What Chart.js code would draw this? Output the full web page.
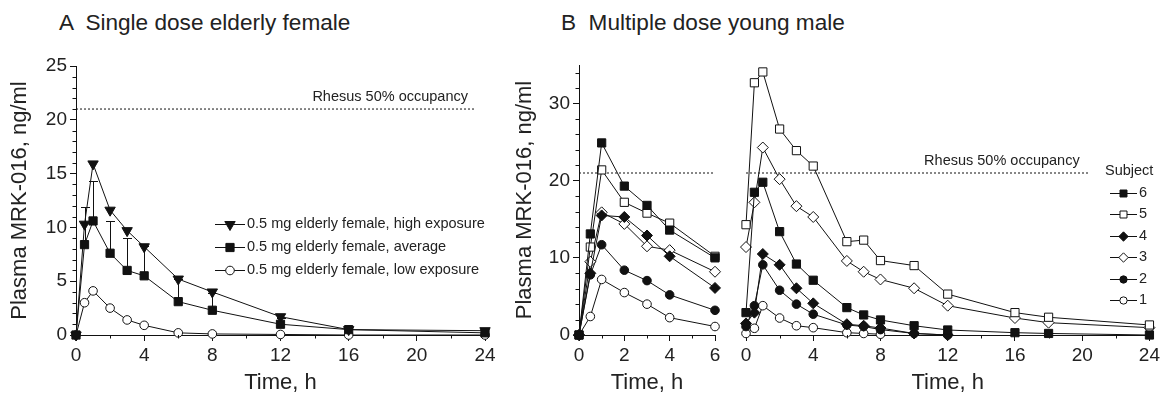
<!DOCTYPE html>
<html>
<head>
<meta charset="utf-8">
<script src="https://cdn.jsdelivr.net/npm/chart.js@4.4.1/dist/chart.umd.min.js"></script>
<style>
  body { margin: 0; background: #fff; width: 1163px; height: 394px; position: relative; overflow: hidden;
         font-family: "Liberation Sans", Arial, sans-serif; color: #222; }
  .panel-title { position: absolute; top: 12px; font-size: 22.6px; line-height: 22px; white-space: pre; }
  .box { position: absolute; top: 40px; height: 354px; }
</style>
</head>
<body>
<div class="panel-title" style="left:59px">A  Single dose elderly female</div>
<div class="panel-title" style="left:561px">B  Multiple dose young male</div>
<div class="box" style="left:0;width:505px"><canvas id="chartA"></canvas></div>
<div class="box" style="left:500px;width:230px"><canvas id="chartB1"></canvas></div>
<div class="box" style="left:730px;width:433px"><canvas id="chartB2"></canvas></div>
<script>
// ---- data ----
const occupancy = 21; // rhesus 50% occupancy, ng/ml

// A: single dose elderly female
const timesA = [0, 0.5, 1, 2, 3, 4, 6, 8, 12, 16, 24];
const highA  = [0, 10.3, 15.9, 11.6, 9.7, 8.2, 5.2, 4.0, 1.7, 0.5, 0.4];
const avgA   = [0, 8.4, 10.6, 7.6, 6.0, 5.5, 3.1, 2.3, 1.0, 0.5, 0.2];
const avgSdTopA = [null, 11.9, 14.3, 10.6, 9.0, 8.3, 5.2, 3.9, 1.6, null, null];
const lowA   = [0, 3.0, 4.1, 2.5, 1.4, 0.9, 0.2, 0.1, 0.05, 0, 0];

// B: multiple dose young male, day 1 (0-6 h)
const timesB1 = [0, 0.5, 1, 2, 3, 4, 6];
const subj6B1 = [0, 13.1, 24.9, 19.3, 16.8, 13.6, 10.0];
const subj5B1 = [0, 11.4, 21.4, 17.2, 15.8, 14.5, 10.2];
const subj4B1 = [0, 8.0, 15.5, 15.3, 12.9, 10.2, 6.1];
const subj3B1 = [0, 9.5, 15.9, 14.4, 11.5, 11.0, 8.2];
const subj2B1 = [0, 7.8, 11.7, 8.4, 7.05, 5.2, 3.2];
const subj1B1 = [0, 2.4, 7.2, 5.5, 4.0, 2.25, 1.1];

// B: multiple dose young male, last day (0-24 h)
const timesB2 = [0, 0.5, 1, 2, 3, 4, 6, 7, 8, 10, 12, 16, 18, 24];
const subj6B2 = [2.9, 18.5, 19.8, 13.4, 9.2, 7.1, 3.55, 2.6, 1.95, 1.2, 0.65, 0.3, 0.2, 0];
const subj5B2 = [14.3, 32.7, 34.1, 26.7, 23.9, 21.9, 12.1, 12.3, 9.65, 9.0, 5.3, 2.9, 2.3, 1.3];
const subj4B2 = [1.5, 2.9, 10.5, 9.1, 6.06, 4.1, 1.4, 1.2, 0.9, 0.2, 0, null, null, null];
const subj3B2 = [11.4, 17.2, 24.3, 20.2, 16.7, 15.3, 9.6, 8.2, 7.2, 6.06, 3.8, 2.2, 1.6, 0.95];
const subj2B2 = [1.1, 3.8, 9.1, 5.8, 4.0, 2.7, 1.3, 1.1, 0.7, 0.2, 0, null, null, null];
const subj1B2 = [0.2, 0.87, 3.8, 2.2, 1.2, 0.95, 0.3, 0.2, 0.1, null, null, null, null, null];

const ticksA = { xStep: 4, yStep: 5 };
const ticksB = { x1Step: 2, x2Step: 4, yStep: 10 };

// ---- styles ----
const INK = '#111';
const FONT = '"Liberation Sans", Arial, sans-serif';
const markers = {
  triDown:   { shape: 'triangle', r: 6, rot: 180, fill: INK },
  sqFill:    { shape: 'rect', r: 5.8, fill: INK },
  sqOpen:    { shape: 'rect', r: 5.8, fill: '#fff' },
  dmFill:    { shape: 'rectRot', r: 5.5, fill: INK },
  dmOpen:    { shape: 'rectRot', r: 5.5, fill: '#fff' },
  ciFill:    { shape: 'circle', r: 4.3, fill: INK },
  ciOpen:    { shape: 'circle', r: 4.3, fill: '#fff' }
};

function series(label, times, vals, m, extra) {
  return Object.assign({
    label: label,
    data: times.map((t, i) => ({ x: t, y: vals[i] })).filter(p => p.y !== null),
    borderColor: INK, borderWidth: 1, tension: 0, clip: false,
    pointStyle: m.shape, pointRadius: m.r, pointHoverRadius: m.r, pointRotation: m.rot || 0,
    pointBackgroundColor: m.fill, pointBorderColor: INK, pointBorderWidth: 1,
    inLegend: true, marker: m, order: 1
  }, extra || {});
}

function refLine(xEnd) {
  return {
    label: 'ref', data: [{ x: 0, y: occupancy }, { x: xEnd, y: occupancy }],
    borderColor: INK, borderWidth: 1, borderDash: [2, 2], pointRadius: 0, clip: false, inLegend: false, order: 5
  };
}

// minor tick marks (Chart.js has no minor ticks)
const minorTicks = {
  id: 'minorTicks',
  afterDraw(chart, args, opts) {
    const ctx = chart.ctx, area = chart.chartArea;
    ctx.save();
    ctx.strokeStyle = INK; ctx.lineWidth = 1;
    ctx.beginPath();
    (opts.x || []).forEach(v => {
      const px = Math.round(chart.scales.x.getPixelForValue(v)) + 0.5;
      ctx.moveTo(px, area.bottom); ctx.lineTo(px, area.bottom + 3.5);
    });
    (opts.y || []).forEach(v => {
      const py = Math.round(chart.scales.y.getPixelForValue(v)) + 0.5;
      ctx.moveTo(area.left, py); ctx.lineTo(area.left - 3.5, py);
    });
    ctx.stroke();
    ctx.restore();
  }
};

// upward SD bars on the average curve
const errorBars = {
  id: 'errorBars',
  beforeDatasetsDraw(chart) {
    const ctx = chart.ctx;
    ctx.save();
    ctx.strokeStyle = INK; ctx.lineWidth = 1;
    chart.data.datasets.forEach(ds => {
      if (!ds.errorTop) return;
      ds.data.forEach((p, i) => {
        const top = ds.errorTop[i];
        if (top === null || top === undefined) return;
        const x = Math.round(chart.scales.x.getPixelForValue(p.x)) + 0.5;
        const y0 = chart.scales.y.getPixelForValue(p.y);
        const y1 = Math.round(chart.scales.y.getPixelForValue(top)) + 0.5;
        ctx.beginPath();
        ctx.moveTo(x, y0); ctx.lineTo(x, y1);
        ctx.moveTo(x - 4.5, y1); ctx.lineTo(x + 4.5, y1);
        ctx.stroke();
      });
    });
    ctx.restore();
  }
};

// text label over the occupancy line
const refLabel = {
  id: 'refLabel',
  afterDraw(chart, args, opts) {
    if (!opts.text) return;
    const ctx = chart.ctx;
    ctx.save();
    ctx.font = '14.5px ' + FONT;
    ctx.fillStyle = '#222';
    ctx.textAlign = 'right'; ctx.textBaseline = 'middle';
    ctx.fillText(opts.text, chart.scales.x.getPixelForValue(opts.atX), chart.scales.y.getPixelForValue(occupancy) - 12);
    ctx.restore();
  }
};

// legend drawn inside plot area, built from the datasets
const innerLegend = {
  id: 'innerLegend',
  afterDraw(chart, args, opts) {
    if (!opts.display) return;
    const ctx = chart.ctx;
    ctx.save();
    ctx.font = '14.5px ' + FONT;
    ctx.fillStyle = '#222'; ctx.textBaseline = 'middle'; ctx.textAlign = 'left';
    let y = opts.y;
    if (opts.title) {
      ctx.fillText(opts.title, opts.titleX, opts.titleY);
    }
    chart.data.datasets.filter(d => d.inLegend).forEach(ds => {
      const m = ds.marker;
      ctx.strokeStyle = INK; ctx.lineWidth = 1;
      ctx.beginPath();
      ctx.moveTo(opts.x, Math.round(y) + 0.5); ctx.lineTo(opts.x + opts.lineLen, Math.round(y) + 0.5);
      ctx.stroke();
      ctx.fillStyle = m.fill; ctx.strokeStyle = INK;
      Chart.helpers.drawPoint(ctx, { pointStyle: m.shape, radius: m.r * (opts.markerScale || 1), rotation: m.rot || 0, borderWidth: 1 },
        opts.x + opts.lineLen / 2, Math.round(y) + 0.5);
      ctx.fillStyle = '#222';
      ctx.fillText(ds.label, opts.x + opts.lineLen + 2, y);
      y += opts.gap;
    });
    ctx.restore();
  }
};

function range(from, to, step, skipEvery) {
  const out = [];
  for (let v = from; v <= to + 1e-9; v += step) {
    if (skipEvery && Math.abs(v / skipEvery - Math.round(v / skipEvery)) < 1e-9) continue;
    out.push(v);
  }
  return out;
}

function axisX(max, step, withTitle) {
  return {
    type: 'linear', min: 0, max: max,
    border: { display: true, color: INK, width: 1 },
    grid: { display: true, drawOnChartArea: false, drawTicks: true, tickLength: 6, color: INK },
    ticks: { stepSize: step, autoSkip: false, color: '#222', font: { family: FONT, size: 19 }, padding: 3, maxRotation: 0 },
    title: { display: withTitle, text: 'Time, h', color: '#222', font: { family: FONT, size: 22, lineHeight: 1 }, padding: { top: 0, bottom: 0 } },
    afterFit(scale) { scale.height = 59; }
  };
}

function axisY(max, step, width, titlePad, show) {
  return {
    type: 'linear', min: 0, max: max, display: show,
    border: { display: true, color: INK, width: 1 },
    grid: { display: true, drawOnChartArea: false, drawTicks: true, tickLength: 6, color: INK },
    ticks: { stepSize: step, includeBounds: false, autoSkip: false, color: '#222', font: { family: FONT, size: 19 }, padding: 3 },
    title: { display: true, text: 'Plasma MRK-016, ng/ml', color: '#222', font: { family: FONT, size: 22, lineHeight: 1 }, padding: { top: titlePad, bottom: 0 } },
    afterFit(scale) { scale.width = width; }
  };
}

function baseOptions(scales, padding, plugins) {
  return {
    responsive: true, maintainAspectRatio: false, animation: false, events: [],
    layout: { padding: padding },
    scales: scales,
    plugins: Object.assign({ legend: { display: false }, tooltip: { enabled: false } }, plugins)
  };
}

const plugins = [minorTicks, errorBars, refLabel, innerLegend];

// ---- A ----
new Chart(document.getElementById('chartA'), {
  type: 'line',
  data: {
    datasets: [
      series('0.5 mg elderly female, high exposure', timesA, highA, markers.triDown),
      series('0.5 mg elderly female, average', timesA, avgA, markers.sqFill, { errorTop: avgSdTopA, order: 0 }),
      series('0.5 mg elderly female, low exposure', timesA, lowA, markers.ciOpen, { order: 2 }),
      refLine(23.4)
    ]
  },
  options: baseOptions(
    { x: axisX(24, ticksA.xStep, true), y: axisY(25, ticksA.yStep, 76, 9, true) },
    { top: 26, right: 20, left: 0, bottom: 0 },
    {
      minorTicks: { x: range(2, 22, 4), y: range(1, 24, 1, 5) },
      refLabel: { text: 'Rhesus 50% occupancy', atX: 23.0 },
      innerLegend: { display: true, x: 215, y: 184, gap: 23, lineLen: 30 }
    }
  ),
  plugins: plugins
});

// ---- B, first dose ----
new Chart(document.getElementById('chartB1'), {
  type: 'line',
  data: {
    datasets: [
      series('6', timesB1, subj6B1, markers.sqFill),
      series('5', timesB1, subj5B1, markers.sqOpen),
      series('4', timesB1, subj4B1, markers.dmFill),
      series('3', timesB1, subj3B1, markers.dmOpen),
      series('2', timesB1, subj2B1, markers.ciFill),
      series('1', timesB1, subj1B1, markers.ciOpen),
      refLine(6)
    ]
  },
  options: baseOptions(
    { x: axisX(6, ticksB.x1Step, true), y: axisY(35, ticksB.yStep, 79, 14, true) },
    { top: 25, right: 15, left: 0, bottom: 0 },
    { minorTicks: { x: range(1, 5, 2), y: range(2, 34, 2, 10) } }
  ),
  plugins: plugins
});

// ---- B, last dose ----
new Chart(document.getElementById('chartB2'), {
  type: 'line',
  data: {
    datasets: [
      series('6', timesB2, subj6B2, markers.sqFill),
      series('5', timesB2, subj5B2, markers.sqOpen),
      series('4', timesB2, subj4B2, markers.dmFill),
      series('3', timesB2, subj3B2, markers.dmOpen),
      series('2', timesB2, subj2B2, markers.ciFill),
      series('1', timesB2, subj1B2, markers.ciOpen),
      refLine(20.4)
    ]
  },
  options: baseOptions(
    { x: axisX(24, ticksB.x2Step, true), y: axisY(35, ticksB.yStep, 0, 0, false) },
    { top: 25, right: 11, left: 16, bottom: 0 },
    {
      minorTicks: { x: range(2, 22, 4) },
      refLabel: { text: 'Rhesus 50% occupancy', atX: 19.85 },
      innerLegend: { display: true, title: 'Subject', titleX: 375, titleY: 131, x: 380, y: 153, gap: 21.4, lineLen: 27, markerScale: 0.85 }
    }
  ),
  plugins: plugins
});
</script>
</body>
</html>
